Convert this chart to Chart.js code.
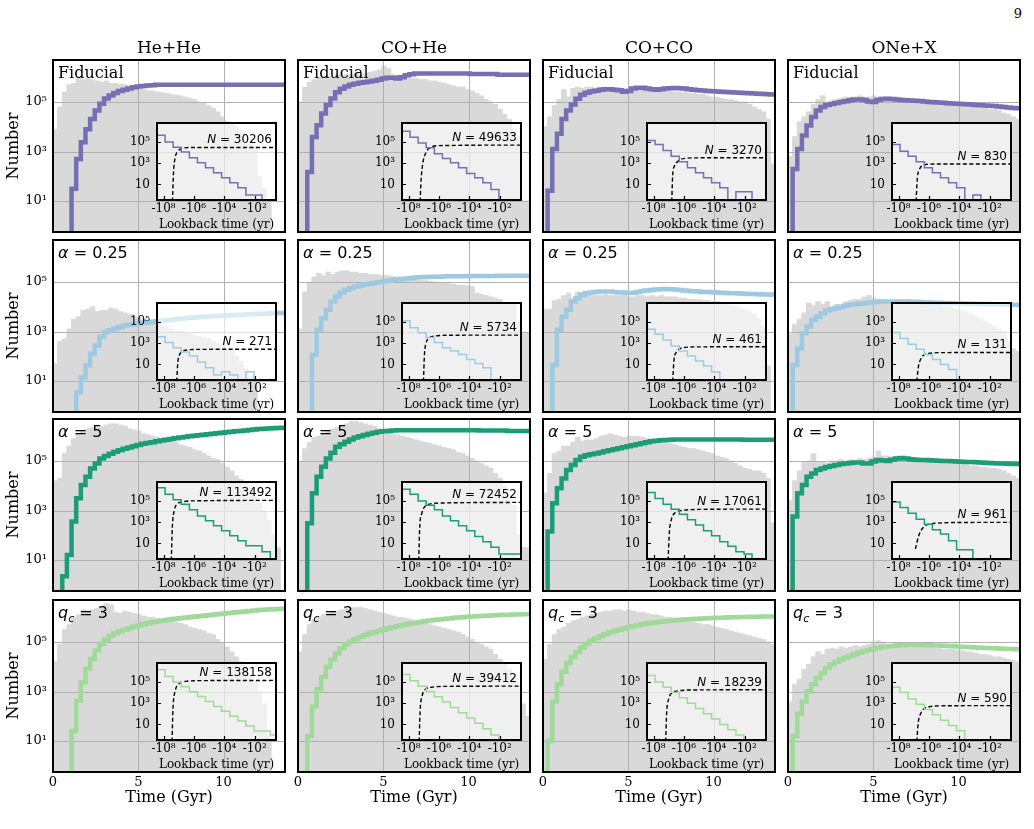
<!DOCTYPE html>
<html>
<head>
<meta charset="utf-8">
<script src="https://cdn.jsdelivr.net/npm/chart.js@4.4.0/dist/chart.umd.min.js"></script>
<style>
  body { margin: 0; background: #fff; width: 1034px; height: 829px; position: relative; overflow: hidden; }
  canvas { position: absolute; }
  .txt { position: absolute; font-family: 'DejaVu Serif', serif; color: #000; white-space: nowrap; line-height: 1; transform: translate(-50%, -50%); }
</style>
</head>
<body>
<script>
// ---- data (counts stored as log10) ----
const channels = ['He+He', 'CO+He', 'CO+CO', 'ONe+X'];
const modelColors = ['#7570b3', '#9ecae1', '#1b9e77', '#a1d99b'];

const timeBinWidth = 0.272;   // Gyr, 50 bins out to 13.6 Gyr
const timeTicks = [0, 5, 10];
const countTicks = [10, 1000, 100000];
const lookbackTicks = [-8, -6, -4, -2];
// bin edges of the inset histograms, in -log10(lookback / yr)
const lookbackEdges = [-8.43, -7.9, -7.37, -6.84, -6.3, -5.77, -5.24, -4.71, -4.18, -3.64, -3.11, -2.58, -2.05, -1.52, -0.98, -0.45];

// grey histograms (all systems), one list per channel
const grayFid = [
  [3.9, 4.8, 5.4, 5.7, 5.75, 6.0, 5.9, 5.95, 5.9, 5.85, 5.8, 5.85, 5.75, 5.75, 5.7, 5.7, 5.6, 5.6, 5.55, 5.5, 5.45, 5.45, 5.4, 5.38, 5.35, 5.3, 5.28, 5.25, 5.2, 5.15, 5.1, 5.0, 4.95, 4.85, 4.75, 4.6, 4.4, 4.2, 4.1, 4.0, 3.8, 3.4, 3.3, 3.2, 2.0, 1.5, 1.0, null, null, null],
  [5.0, 5.6, 5.8, 5.9, 6.0, 6.0, 6.05, 6.0, 6.1, 6.05, 6.1, 6.1, 6.15, 6.1, 6.15, 6.2, 6.25, 6.3, 6.45, 6.35, 6.1, 6.05, 6.0, 6.0, 5.95, 5.95, 5.9, 5.9, 5.85, 5.85, 5.8, 5.75, 5.7, 5.65, 5.6, 5.6, 5.5, 5.45, 5.35, 5.25, 5.1, 5.0, 4.9, 4.7, 4.5, 4.3, 3.8, 3.6, 1.0, 1.0],
  [4.0, 4.4, 4.85, 5.1, 5.5, 5.2, 5.55, 5.6, 5.55, 5.6, 5.6, 5.55, 5.6, 5.55, 5.5, 5.5, 5.5, 5.5, 5.55, 5.6, 5.6, 5.55, 5.5, 5.5, 5.5, 5.45, 5.45, 5.45, 5.4, 5.4, 5.4, 5.35, 5.35, 5.3, 5.3, 5.25, 5.2, 5.2, 5.15, 5.1, 5.1, 5.05, 5.0, 5.0, 4.9, 4.8, 4.7, 4.6, 4.3, 2.5],
  [2.8, 3.6, 4.2, 4.4, 4.6, 4.9, 5.1, 5.25, 4.95, 5.05, 5.1, 5.15, 5.2, 5.2, 5.2, 5.25, 5.2, 5.2, 5.25, 5.2, 5.2, 5.2, 5.15, 5.15, 5.15, 5.1, 5.1, 5.1, 5.05, 5.05, 5.0, 5.0, 5.0, 4.95, 4.95, 4.9, 4.9, 4.85, 4.85, 4.8, 4.8, 4.75, 4.75, 4.7, 4.7, 4.65, 4.55, 4.5, 4.4, 4.3]
];
const grayAlpha025 = [
  [1.7, 2.6, 2.7, 3.1, 3.5, 3.6, 3.85, 3.9, 4.0, 3.8, 3.85, 3.85, 3.95, 3.9, 3.8, 3.75, 3.7, 3.6, 3.55, 3.5, 3.45, 3.35, 3.3, 3.2, 3.15, 3.1, 3.0, 3.0, 2.95, 2.9, 2.85, 2.8, 2.75, 2.7, 2.6, 2.5, 2.4, 2.3, 2.2, 2.0, 1.8, 1.5, 1.2, 1.0, null, null, null, null, null, null],
  [3.1, 4.6, 4.95, 5.2, 5.35, 5.25, 5.4, 5.3, 5.4, 5.45, 5.45, 5.4, 5.4, 5.35, 5.35, 5.3, 5.3, 5.28, 5.27, 5.25, 5.22, 5.2, 5.18, 5.15, 5.1, 5.08, 5.06, 5.05, 5.03, 5.0, 4.98, 4.95, 4.93, 4.9, 4.88, 4.86, 4.84, 4.82, 4.55, 4.5, 4.45, 4.4, 4.35, 4.3, 4.15, 4.15, 4.15, 3.35, 2.93, 2.93],
  [3.9, 3.9, 4.25, 4.3, 4.45, 4.55, 4.35, 4.6, 4.45, 4.5, 4.45, 4.45, 4.45, 4.5, 4.45, 4.45, 4.45, 4.5, 4.4, 4.4, 4.45, 4.45, 4.4, 4.45, 4.4, 4.45, 4.4, 4.4, 4.4, 4.35, 4.35, 4.3, 4.3, 4.3, 4.25, 4.25, 4.2, 4.2, 4.15, 4.1, 4.05, 4.0, 3.95, 3.9, 3.8, 3.7, 3.5, 3.2, 1.6, null],
  [2.9, 3.3, 3.5, 3.75, 4.15, 4.05, 4.2, 4.1, 4.2, 4.0, 4.1, 4.05, 4.2, 4.25, 4.3, 4.3, 4.4, 4.45, 4.35, 4.3, 4.25, 4.25, 4.2, 4.2, 4.2, 4.15, 4.15, 4.15, 4.1, 4.1, 4.1, 4.05, 4.05, 4.0, 4.0, 3.95, 3.9, 3.85, 3.8, 3.7, 3.6, 3.5, 3.4, 3.3, 3.2, 3.1, 3.0, 2.6, 2.3, 2.2]
];
const grayAlpha5 = [
  [4.2, 4.3, 5.3, 5.6, 5.9, 6.1, 6.2, 6.3, 6.35, 6.35, 6.4, 6.45, 6.5, 6.5, 6.45, 6.4, 6.3, 6.25, 6.2, 6.1, 6.05, 6.0, 5.95, 5.9, 5.85, 5.8, 5.75, 5.65, 5.6, 5.55, 5.45, 5.4, 5.3, 5.2, 5.1, 5.05, 4.9, 4.75, 4.6, 4.4, 4.25, 4.1, 3.9, 3.6, 3.3, 3.0, 2.6, 2.0, 1.5, null],
  [5.0, 5.5, 5.75, 5.95, 6.0, 6.1, 6.2, 6.3, 6.35, 6.45, 6.5, 6.6, 6.6, 6.55, 6.5, 6.45, 6.4, 6.3, 6.25, 6.2, 6.1, 6.05, 6.0, 5.95, 5.9, 5.85, 5.8, 5.75, 5.7, 5.65, 5.6, 5.55, 5.5, 5.45, 5.35, 5.3, 5.2, 5.1, 5.0, 4.9, 4.8, 4.7, 4.5, 4.3, 4.0, 3.6, 3.2, 2.0, 1.5, 1.5],
  [3.7, 4.5, 5.3, 5.4, 5.6, 5.6, 5.75, 5.95, 5.8, 5.85, 5.85, 5.9, 6.0, 6.05, 6.1, 6.05, 6.0, 5.95, 6.0, 6.0, 6.0, 5.95, 5.9, 5.85, 5.85, 5.8, 5.75, 5.7, 5.65, 5.6, 5.55, 5.5, 5.5, 5.45, 5.4, 5.35, 5.3, 5.2, 5.15, 5.1, 5.0, 4.9, 4.8, 4.7, 4.65, 4.6, 4.6, 4.5, 4.3, 2.5],
  [3.4, 4.2, 4.6, 4.95, 5.0, 5.3, 4.95, 4.95, 4.9, 5.0, 5.0, 5.05, 5.0, 5.05, 5.0, 5.1, 5.05, 5.1, 5.15, 5.4, 5.2, 5.2, 5.15, 5.15, 5.15, 5.1, 5.1, 5.1, 5.05, 5.05, 5.0, 5.0, 5.0, 4.95, 4.95, 4.9, 4.9, 4.85, 4.85, 4.8, 4.8, 4.75, 4.75, 4.7, 4.7, 4.65, 4.6, 4.5, 4.4, 4.3]
];
const grayQc3 = [
  [4.2, 4.9, 5.5, 5.7, 6.0, 6.1, 6.3, 6.25, 6.3, 6.35, 6.45, 6.55, 6.5, 6.2, 6.15, 6.25, 6.2, 6.15, 6.1, 6.05, 6.0, 6.0, 5.95, 5.9, 5.88, 5.85, 5.8, 5.75, 5.7, 5.6, 5.55, 5.5, 5.45, 5.35, 5.3, 5.1, 4.95, 4.8, 4.6, 4.4, 4.2, 4.0, 3.7, 3.4, 3.0, 2.5, 1.2, null, null, null],
  [4.6, 5.3, 5.7, 5.9, 6.0, 6.1, 6.15, 6.2, 6.25, 6.3, 6.35, 6.35, 6.4, 6.4, 6.35, 6.3, 6.25, 6.2, 6.15, 6.1, 6.05, 6.0, 6.0, 5.95, 5.9, 5.85, 5.8, 5.75, 5.7, 5.65, 5.6, 5.55, 5.5, 5.45, 5.4, 5.3, 5.2, 5.1, 5.0, 4.9, 4.8, 4.7, 4.5, 4.3, 4.1, 3.9, 3.6, 3.2, 2.5, 2.0],
  [4.3, 4.9, 5.3, 5.5, 5.6, 5.75, 5.85, 5.9, 6.0, 6.05, 6.1, 6.15, 6.2, 6.25, 6.25, 6.3, 6.3, 6.25, 6.3, 6.25, 6.2, 6.2, 6.15, 6.1, 6.1, 6.05, 6.0, 6.0, 5.95, 5.9, 5.9, 5.85, 5.8, 5.75, 5.7, 5.7, 5.65, 5.6, 5.55, 5.5, 5.45, 5.4, 5.35, 5.3, 5.25, 5.2, 5.15, 5.1, 5.0, 4.9],
  [2.6, 3.3, 3.5, 3.9, 4.1, 4.4, 4.6, 4.5, 4.7, 4.75, 4.7, 4.8, 4.75, 4.8, 4.85, 4.8, 4.85, 4.9, 4.95, 5.05, 4.95, 4.9, 4.9, 4.9, 4.85, 4.85, 4.85, 4.8, 4.8, 4.8, 4.8, 4.75, 4.75, 4.7, 4.7, 4.7, 4.65, 4.65, 4.6, 4.6, 4.55, 4.5, 4.5, 4.45, 4.4, 4.4, 4.35, 4.3, 4.25, 4.2]
];

// coloured cumulative curves
const lineFid = [
  [null, null, null, null, 1.5, 2.7, 3.38, 3.9, 4.32, 4.66, 4.93, 5.14, 5.27, 5.37, 5.45, 5.5, 5.55, 5.6, 5.63, 5.65, 5.67, 5.68, 5.7, 5.7, 5.7, 5.7, 5.7, 5.7, 5.7, 5.7, 5.7, 5.7, 5.7, 5.7, 5.7, 5.7, 5.7, 5.7, 5.7, 5.7, 5.7, 5.7, 5.7, 5.7, 5.7, 5.7, 5.7, 5.7, 5.7, 5.7],
  [null, null, 2.17, 3.59, 4.06, 4.54, 4.88, 5.14, 5.4, 5.54, 5.63, 5.7, 5.74, 5.78, 5.8, 5.83, 5.86, 5.9, 5.95, 5.98, 5.98, 5.95, 6.0, 6.08, 6.12, 6.15, 6.15, 6.15, 6.15, 6.15, 6.15, 6.15, 6.15, 6.15, 6.15, 6.15, 6.15, 6.13, 6.13, 6.13, 6.13, 6.13, 6.13, 6.1, 6.1, 6.1, 6.1, 6.1, 6.1, 6.1],
  [null, 1.42, 3.1, 3.72, 4.32, 4.66, 4.9, 5.13, 5.3, 5.38, 5.43, 5.46, 5.5, 5.52, 5.52, 5.5, 5.48, 5.42, 5.45, 5.55, 5.58, 5.58, 5.55, 5.52, 5.5, 5.52, 5.55, 5.56, 5.57, 5.56, 5.55, 5.52, 5.5, 5.48, 5.47, 5.45, 5.44, 5.43, 5.42, 5.41, 5.4, 5.39, 5.38, 5.37, 5.36, 5.35, 5.34, 5.33, 5.32, 5.31],
  [null, 2.3, 3.1, 3.65, 4.05, 4.4, 4.66, 4.8, 4.88, 4.92, 4.96, 5.0, 5.03, 5.07, 5.1, 5.1, 5.08, 5.02, 5.0, 5.08, 5.12, 5.13, 5.12, 5.1, 5.08, 5.07, 5.06, 5.05, 5.04, 5.02, 5.0, 4.99, 4.98, 4.97, 4.95, 4.94, 4.93, 4.92, 4.91, 4.9, 4.88, 4.87, 4.86, 4.85, 4.84, 4.82, 4.8, 4.78, 4.76, 4.75]
];
const lineAlpha025 = [
  [null, null, null, null, null, 0.54, 1.14, 1.63, 2.1, 2.44, 2.78, 2.98, 3.05, 3.12, 3.18, 3.25, 3.28, 3.3, 3.33, 3.36, 3.38, 3.4, 3.42, 3.44, 3.46, 3.48, 3.5, 3.52, 3.54, 3.56, 3.57, 3.58, 3.6, 3.61, 3.62, 3.63, 3.64, 3.65, 3.66, 3.67, 3.68, 3.69, 3.7, 3.71, 3.72, 3.72, 3.73, 3.74, 3.75, 3.75],
  [null, null, null, 2.05, 3.07, 3.54, 3.88, 4.22, 4.42, 4.58, 4.69, 4.76, 4.82, 4.86, 4.9, 4.93, 4.96, 4.99, 5.02, 5.05, 5.08, 5.1, 5.12, 5.14, 5.16, 5.18, 5.19, 5.2, 5.21, 5.22, 5.22, 5.23, 5.24, 5.24, 5.24, 5.24, 5.24, 5.25, 5.25, 5.25, 5.25, 5.25, 5.25, 5.26, 5.26, 5.26, 5.26, 5.26, 5.26, 5.26],
  [null, null, 1.65, 3.07, 3.6, 3.88, 4.22, 4.35, 4.49, 4.55, 4.58, 4.6, 4.62, 4.62, 4.62, 4.6, 4.58, 4.58, 4.56, 4.57, 4.6, 4.64, 4.66, 4.68, 4.7, 4.71, 4.72, 4.71, 4.7, 4.68, 4.66, 4.64, 4.63, 4.62, 4.6, 4.6, 4.59, 4.58, 4.57, 4.56, 4.55, 4.55, 4.54, 4.53, 4.52, 4.52, 4.51, 4.5, 4.5, 4.49],
  [null, 1.65, 2.32, 2.93, 3.2, 3.47, 3.6, 3.74, 3.85, 3.9, 3.95, 4.0, 4.04, 4.08, 4.1, 4.12, 4.14, 4.16, 4.18, 4.2, 4.21, 4.22, 4.22, 4.22, 4.22, 4.21, 4.2, 4.2, 4.19, 4.18, 4.17, 4.16, 4.16, 4.15, 4.15, 4.14, 4.14, 4.13, 4.13, 4.12, 4.12, 4.11, 4.11, 4.1, 4.1, 4.1, 4.09, 4.09, 4.08, 4.08]
];
const lineAlpha5 = [
  [null, null, 0.35, 1.2, 2.56, 3.5, 4.03, 4.37, 4.7, 4.9, 5.1, 5.2, 5.3, 5.38, 5.44, 5.5, 5.55, 5.6, 5.65, 5.7, 5.73, 5.76, 5.8, 5.83, 5.86, 5.89, 5.92, 5.95, 5.97, 6.0, 6.02, 6.04, 6.06, 6.08, 6.1, 6.12, 6.14, 6.16, 6.18, 6.2, 6.22, 6.24, 6.26, 6.28, 6.3, 6.31, 6.32, 6.33, 6.34, 6.35],
  [null, null, 2.49, 3.7, 4.37, 4.77, 5.1, 5.34, 5.58, 5.68, 5.78, 5.87, 5.95, 6.0, 6.05, 6.1, 6.14, 6.18, 6.2, 6.22, 6.24, 6.25, 6.25, 6.25, 6.25, 6.25, 6.25, 6.25, 6.25, 6.25, 6.25, 6.25, 6.25, 6.25, 6.25, 6.25, 6.25, 6.25, 6.25, 6.24, 6.24, 6.24, 6.24, 6.24, 6.24, 6.22, 6.22, 6.22, 6.22, 6.22],
  [null, 2.15, 3.3, 3.9, 4.3, 4.64, 4.84, 5.04, 5.17, 5.24, 5.28, 5.31, 5.35, 5.4, 5.44, 5.48, 5.52, 5.56, 5.6, 5.64, 5.68, 5.72, 5.76, 5.8, 5.82, 5.84, 5.85, 5.86, 5.87, 5.87, 5.87, 5.87, 5.87, 5.87, 5.87, 5.87, 5.87, 5.87, 5.87, 5.87, 5.87, 5.87, 5.87, 5.86, 5.86, 5.86, 5.86, 5.86, 5.86, 5.86],
  [null, 2.76, 3.7, 4.03, 4.37, 4.5, 4.64, 4.7, 4.76, 4.8, 4.84, 4.88, 4.9, 4.92, 4.94, 4.94, 4.9, 4.9, 4.98, 5.04, 5.02, 5.0, 5.05, 5.1, 5.12, 5.1, 5.07, 5.05, 5.04, 5.04, 5.03, 5.02, 5.01, 5.0, 5.0, 4.99, 4.98, 4.97, 4.96, 4.96, 4.95, 4.94, 4.93, 4.92, 4.91, 4.9, 4.9, 4.89, 4.88, 4.88]
];
const lineQc3 = [
  [null, null, null, null, 1.41, 2.63, 3.37, 3.92, 4.32, 4.66, 4.93, 5.1, 5.25, 5.36, 5.44, 5.5, 5.56, 5.62, 5.67, 5.72, 5.76, 5.8, 5.83, 5.86, 5.89, 5.92, 5.94, 5.96, 5.98, 6.0, 6.02, 6.04, 6.06, 6.08, 6.1, 6.12, 6.14, 6.16, 6.18, 6.2, 6.22, 6.24, 6.26, 6.28, 6.3, 6.31, 6.32, 6.33, 6.34, 6.35],
  [null, null, 1.2, 2.4, 3.1, 3.6, 4.0, 4.3, 4.55, 4.75, 4.9, 5.02, 5.12, 5.2, 5.28, 5.35, 5.4, 5.45, 5.5, 5.55, 5.6, 5.64, 5.68, 5.72, 5.75, 5.78, 5.81, 5.84, 5.87, 5.89, 5.91, 5.93, 5.95, 5.97, 5.99, 6.0, 6.02, 6.03, 6.04, 6.05, 6.06, 6.07, 6.08, 6.09, 6.1, 6.1, 6.11, 6.11, 6.12, 6.12],
  [null, 1.0, 2.6, 3.3, 3.8, 4.15, 4.4, 4.6, 4.78, 4.92, 5.05, 5.15, 5.24, 5.32, 5.39, 5.45, 5.5, 5.55, 5.6, 5.64, 5.68, 5.72, 5.75, 5.78, 5.8, 5.82, 5.84, 5.86, 5.88, 5.9, 5.91, 5.92, 5.93, 5.94, 5.95, 5.96, 5.97, 5.98, 5.98, 5.99, 6.0, 6.0, 6.01, 6.01, 6.02, 6.02, 6.02, 6.03, 6.03, 6.03],
  [null, 1.2, 2.1, 2.6, 3.0, 3.3, 3.55, 3.75, 3.95, 4.1, 4.2, 4.3, 4.38, 4.45, 4.52, 4.58, 4.63, 4.68, 4.72, 4.76, 4.8, 4.82, 4.84, 4.86, 4.87, 4.88, 4.88, 4.88, 4.88, 4.87, 4.87, 4.86, 4.86, 4.85, 4.84, 4.83, 4.82, 4.81, 4.8, 4.79, 4.78, 4.77, 4.76, 4.75, 4.75, 4.74, 4.73, 4.72, 4.72, 4.71]
];

// inset histograms per lookback bin
const insetFid = [
  [5.63, 5.0, 4.5, 4.06, 3.5, 3.03, 2.56, 2.1, 1.63, 1.16, 0.69, 0.0, 0.0],
  [6.0, 5.44, 4.9, 4.44, 3.88, 3.44, 3.03, 2.56, 2.03, 1.63, 1.16, 0.53],
  [5.13, 4.75, 4.19, 3.66, 3.13, 2.56, 2.1, 1.63, 1.16, 0.69, null, 0.3, 0.3],
  [4.75, 4.13, 3.66, 3.13, 2.56, 2.1, 1.63, 1.16, 0.69, null, 0.0]
];
const insetAlpha025 = [
  [3.61, 3.05, 2.57, 2.17, 1.79, 1.22, 0.69, 0.0, 0.3, 0.0, null, 0.3],
  [5.1, 4.46, 3.99, 3.52, 3.05, 2.57, 2.26, 1.94, 1.47, 1.09, 0.69],
  [4.3, 3.83, 3.3, 2.73, 2.26, 1.79, 1.31, 0.84, 0.28],
  [4.0, 3.43, 2.89, 2.42, 1.94, 1.47, 1.0, 0.53]
];
const insetAlpha5 = [
  [6.25, 5.63, 5.1, 4.69, 4.16, 3.59, 3.13, 2.66, 2.19, 1.72, 1.25, 0.78, 0.78, 0.22],
  [6.1, 5.63, 5.0, 4.6, 4.16, 3.59, 3.13, 2.66, 2.19, 1.66, 1.16, 0.63, 0.0, 0.0, 0.0],
  [5.78, 5.22, 4.69, 4.22, 3.75, 3.22, 2.72, 2.19, 1.72, 1.16, 0.72, 0.22, 0.0],
  [4.9, 4.38, 3.84, 3.28, 2.81, 2.28, 1.88, 1.25, 0.41, 0.41]
];
const insetQc3 = [
  [6.14, 5.52, 5.0, 4.54, 4.08, 3.62, 3.15, 2.69, 2.23, 1.77, 1.31, 0.85, 0.38, 0.38, 0.0],
  [5.7, 5.1, 4.6, 4.1, 3.6, 3.1, 2.6, 2.1, 1.6, 1.1, 0.6, 0.0],
  [5.6, 5.0, 4.5, 4.0, 3.5, 3.0, 2.5, 2.0, 1.5, 1.0, 0.5, 0.0],
  [4.5, 4.0, 3.4, 2.9, 2.4, 1.9, 1.4, 0.9, 0.4]
];

// dashed cumulative curves in the insets: [ -log10(lookback), log10(N) ]
const dashFid = [
  [[-7.41, -0.6], [-7.35, 1.94], [-7.24, 3.5], [-7.08, 4.06], [-6.8, 4.38], [-6.26, 4.47], [-0.6, 4.48]],
  [[-7.24, -0.6], [-7.17, 1.5], [-7.06, 3.0], [-6.85, 4.0], [-6.54, 4.5], [-5.93, 4.65], [-0.6, 4.7]],
  [[-6.8, -0.6], [-6.74, 1.9], [-6.63, 2.7], [-6.37, 3.2], [-5.93, 3.45], [-5.17, 3.5], [-0.6, 3.51]],
  [[-6.85, -0.6], [-6.76, 1.6], [-6.63, 2.4], [-6.4, 2.8], [-6.0, 2.9], [-5.0, 2.92], [-0.6, 2.92]]
];
const dashAlpha025 = [
  [[-7.13, -0.6], [-7.06, 1.2], [-6.95, 1.9], [-6.8, 2.2], [-6.47, 2.35], [-5.8, 2.41], [-0.6, 2.43]],
  [[-7.02, -0.6], [-6.95, 2.0], [-6.85, 3.0], [-6.63, 3.5], [-6.26, 3.67], [-5.5, 3.74], [-0.6, 3.76]],
  [[-6.74, -0.6], [-6.65, 1.5], [-6.52, 2.1], [-6.3, 2.45], [-5.93, 2.6], [-5.0, 2.65], [-0.6, 2.66]],
  [[-6.8, -0.6], [-6.69, 0.8], [-6.54, 1.5], [-6.26, 1.95], [-5.93, 2.05], [-5.0, 2.11], [-0.6, 2.12]]
];
const dashAlpha5 = [
  [[-7.49, -0.6], [-7.42, 2.56], [-7.29, 4.13], [-7.11, 4.69], [-6.78, 4.9], [-6.22, 5.0], [-0.6, 5.05]],
  [[-7.33, -0.6], [-7.27, 2.35], [-7.11, 3.9], [-6.89, 4.53], [-6.56, 4.72], [-5.89, 4.8], [-0.6, 4.86]],
  [[-7.04, -0.6], [-6.96, 2.03], [-6.82, 3.28], [-6.56, 3.9], [-6.11, 4.1], [-5.0, 4.2], [-0.6, 4.23]],
  [[-6.89, 0.47], [-6.67, 1.72], [-6.38, 2.5], [-6.0, 2.81], [-5.44, 2.9], [-4.5, 2.96], [-0.6, 2.98]]
];
const dashQc3 = [
  [[-7.44, -0.6], [-7.38, 2.4], [-7.22, 4.2], [-7.0, 4.8], [-6.56, 5.05], [-5.5, 5.12], [-0.6, 5.14]],
  [[-7.3, -0.6], [-7.24, 2.2], [-7.1, 3.7], [-6.9, 4.3], [-6.5, 4.5], [-5.5, 4.58], [-0.6, 4.6]],
  [[-7.2, -0.6], [-7.14, 2.0], [-7.0, 3.4], [-6.8, 3.95], [-6.4, 4.15], [-5.4, 4.24], [-0.6, 4.26]],
  [[-6.8, -0.6], [-6.7, 1.2], [-6.55, 2.0], [-6.3, 2.5], [-5.9, 2.68], [-5.0, 2.75], [-0.6, 2.77]]
];

const nFid = [30206, 49633, 3270, 830];
const nAlpha025 = [271, 5734, 461, 131];
const nAlpha5 = [113492, 72452, 17061, 961];
const nQc3 = [138158, 39412, 18239, 590];

// ---- layout ----
const grayAll = [grayFid, grayAlpha025, grayAlpha5, grayQc3];
const lineAll = [lineFid, lineAlpha025, lineAlpha5, lineQc3];
const insetAll = [insetFid, insetAlpha025, insetAlpha5, insetQc3];
const dashAll = [dashFid, dashAlpha025, dashAlpha5, dashQc3];
const nAll = [nFid, nAlpha025, nAlpha5, nQc3];

const SERIF = "'DejaVu Serif', serif";
const SANS = "'DejaVu Sans', sans-serif";
const GRAY = '#d9d9d9';
const GRID = '#b0b0b0';
const FLOOR = 1e-3;
const TOPPAD = 18;   // room so tick-label padding never pushes the plot area down

const colX = [53, 298, 543, 788];
const rowY = [60, 240, 419, 600];
const PW = 232, PH = 172;
const nBins = 50;
const sup = { 10: '10\u00b9', 1000: '10\u00b3', 100000: '10\u2075' };
const insetSup = { 10: '10', 1000: '10\u00b3', 100000: '10\u2075' };
const lbSup = { '-8': '-10\u2078', '-6': '-10\u2076', '-4': '-10\u2074', '-2': '-10\u00b2' };

Chart.defaults.font.family = SERIF;
Chart.defaults.color = '#000';

function toY(v) { return v == null ? FLOOR : Math.pow(10, v); }

// draw text pieces (italic / subscript) one after the other
function drawRich(ctx, segs, x, y, size, align) {
  const fontOf = s => (s.it ? 'oblique ' : '') + (s.sub ? Math.round(size * 0.7) : size) + 'px ' + SANS;
  let w = 0;
  segs.forEach(s => { ctx.font = fontOf(s); w += ctx.measureText(s.t).width; });
  let cx = align === 'right' ? x - w : x;
  ctx.textAlign = 'left';
  ctx.textBaseline = 'alphabetic';
  segs.forEach(s => {
    ctx.font = fontOf(s);
    ctx.fillText(s.t, cx, s.sub ? y + size * 0.22 : y);
    cx += ctx.measureText(s.t).width;
  });
}

function panelLabel(ctx, r, x, y) {
  ctx.fillStyle = '#000';
  if (r === 0) {
    ctx.font = '16px ' + SERIF; ctx.textAlign = 'left'; ctx.textBaseline = 'alphabetic';
    ctx.fillText('Fiducial', x, y);
  } else if (r === 1) {
    drawRich(ctx, [{ t: '\u03b1', it: true }, { t: ' = 0.25' }], x, y, 16, 'left');
  } else if (r === 2) {
    drawRich(ctx, [{ t: '\u03b1', it: true }, { t: ' = 5' }], x, y, 16, 'left');
  } else {
    drawRich(ctx, [{ t: 'q', it: true }, { t: 'c', it: true, sub: true }, { t: ' = 3' }], x, y, 16, 'left');
  }
}

function makeCanvas(left, top, w, h) {
  const cv = document.createElement('canvas');
  cv.width = w; cv.height = h;
  cv.style.left = left + 'px'; cv.style.top = top + 'px';
  cv.style.width = w + 'px'; cv.style.height = h + 'px';
  document.body.appendChild(cv);
  return cv;
}

function mainPanel(r, c) {
  const cv = makeCanvas(colX[c] - 50, rowY[r] - TOPPAD, 50 + PW + 4, TOPPAD + PH + 30);
  const gray = grayAll[r][c], line = lineAll[r][c];
  const grayPts = [], linePts = [];
  for (let i = 0; i < nBins; i++) {
    grayPts.push({ x: i * timeBinWidth, y: toY(gray[i]) });
    linePts.push({ x: i * timeBinWidth, y: toY(line[i]) });
  }
  grayPts.push({ x: nBins * timeBinWidth, y: toY(gray[nBins - 1]) });
  linePts.push({ x: nBins * timeBinWidth, y: toY(line[nBins - 1]) });

  new Chart(cv, {
    type: 'line',
    data: {
      datasets: [
        { data: linePts, borderColor: modelColors[r], borderWidth: 4.5, stepped: 'before', pointRadius: 0,
          fill: false, clip: 0, borderJoinStyle: 'miter', borderCapStyle: 'butt' },
        { data: grayPts, borderColor: GRAY, borderWidth: 1, backgroundColor: GRAY, fill: 'start',
          stepped: 'before', pointRadius: 0, clip: 0 }
      ]
    },
    options: {
      responsive: false, animation: false, devicePixelRatio: 1,
      layout: { padding: { top: TOPPAD, right: 4, left: 0, bottom: 0 } },
      plugins: { legend: { display: false }, tooltip: { enabled: false } },
      scales: {
        x: {
          type: 'linear', min: 0, max: nBins * timeBinWidth, bounds: 'data',
          grid: { display: false, drawTicks: false }, border: { display: false },
          ticks: { display: r === 3, font: { size: 13 }, padding: 3, maxRotation: 0, autoSkip: false },
          afterBuildTicks: s => { s.ticks = timeTicks.map(v => ({ value: v })); },
          afterFit: s => { s.height = 30; }
        },
        y: {
          type: 'logarithmic', min: Math.pow(10, -0.25), max: Math.pow(10, 6.7), bounds: 'data',
          grid: { display: false, drawTicks: false }, border: { display: false },
          ticks: { display: c === 0, font: { size: 13 }, padding: 6, autoSkip: false, callback: v => sup[v] },
          afterBuildTicks: s => { s.ticks = countTicks.map(v => ({ value: v })); },
          afterFit: s => { s.width = 50; }
        }
      }
    },
    plugins: [{
      id: 'panelDeco',
      afterDatasetDraw(chart, args) {
        if (args.index !== 1) return;
        const { ctx, chartArea: a, scales } = chart;
        ctx.save();
        ctx.strokeStyle = GRID; ctx.lineWidth = 1;
        ctx.beginPath();
        countTicks.forEach(v => {
          const y = Math.round(scales.y.getPixelForValue(v)) + 0.5;
          ctx.moveTo(a.left, y); ctx.lineTo(a.right, y);
        });
        timeTicks.slice(1).forEach(v => {
          const x = Math.round(scales.x.getPixelForValue(v)) + 0.5;
          ctx.moveTo(x, a.top); ctx.lineTo(x, a.bottom);
        });
        ctx.stroke();
        ctx.restore();
      },
      afterDraw(chart) {
        const { ctx, chartArea: a } = chart;
        ctx.save();
        ctx.strokeStyle = '#000'; ctx.lineWidth = 2;
        ctx.strokeRect(a.left, a.top, a.right - a.left, a.bottom - a.top);
        panelLabel(ctx, r, a.left + 5, a.top + 18);
        ctx.restore();
      }
    }]
  });
}

function insetPanel(r, c) {
  const cv = makeCanvas(colX[c] + 104 - 32, rowY[r] + 63 - TOPPAD, 32 + 119 + 3, TOPPAD + 77 + 31);
  const vals = insetAll[r][c];
  const stepPts = vals.map((v, k) => ({ x: lookbackEdges[k], y: toY(v) }));
  stepPts.push({ x: lookbackEdges[vals.length], y: FLOOR });
  const dashPts = dashAll[r][c].map(p => ({ x: p[0], y: Math.pow(10, p[1]) }));
  const n = nAll[r][c];
  const plateau = dashAll[r][c][dashAll[r][c].length - 1][1];

  new Chart(cv, {
    type: 'line',
    data: {
      datasets: [
        { data: stepPts, borderColor: modelColors[r], borderWidth: 1.5, stepped: 'before', pointRadius: 0,
          fill: false, clip: 0, borderJoinStyle: 'miter' },
        { data: dashPts, borderColor: '#000', borderWidth: 1.4, borderDash: [4, 2.5], pointRadius: 0,
          fill: false, clip: 0, cubicInterpolationMode: 'monotone' }
      ]
    },
    options: {
      responsive: false, animation: false, devicePixelRatio: 1,
      layout: { padding: { top: TOPPAD, right: 3, left: 0, bottom: 0 } },
      plugins: { legend: { display: false }, tooltip: { enabled: false } },
      scales: {
        x: {
          type: 'linear', min: -8.43, max: -0.6, bounds: 'data',
          grid: { display: false, drawTicks: false }, border: { display: false },
          ticks: { font: { size: 12 }, padding: 2, maxRotation: 0, autoSkip: false, callback: v => lbSup[v] },
          afterBuildTicks: s => { s.ticks = lookbackTicks.map(v => ({ value: v })); },
          afterFit: s => { s.height = 31; }
        },
        y: {
          type: 'logarithmic', min: Math.pow(10, -0.47), max: Math.pow(10, 6.78), bounds: 'data',
          grid: { display: false, drawTicks: false }, border: { display: false },
          ticks: { font: { size: 12 }, padding: 7, autoSkip: false, callback: v => insetSup[v] },
          afterBuildTicks: s => { s.ticks = countTicks.map(v => ({ value: v })); },
          afterFit: s => { s.width = 32; }
        }
      }
    },
    plugins: [{
      id: 'insetDeco',
      beforeDraw(chart) {
        const { ctx, chartArea: a } = chart;
        ctx.save();
        ctx.fillStyle = 'rgba(255,255,255,0.6)';
        ctx.fillRect(a.left, a.top, a.right - a.left, a.bottom - a.top);
        ctx.restore();
      },
      afterDraw(chart) {
        const { ctx, chartArea: a, scales } = chart;
        ctx.save();
        ctx.strokeStyle = '#000'; ctx.lineWidth = 1.2;
        ctx.beginPath();
        countTicks.forEach(v => {
          const y = Math.round(scales.y.getPixelForValue(v)) + 0.5;
          ctx.moveTo(a.left, y); ctx.lineTo(a.left + 4, y);
        });
        lookbackTicks.forEach(v => {
          const x = Math.round(scales.x.getPixelForValue(v)) + 0.5;
          ctx.moveTo(x, a.bottom); ctx.lineTo(x, a.bottom - 4);
        });
        ctx.stroke();
        ctx.lineWidth = 2;
        ctx.strokeRect(a.left, a.top, a.right - a.left, a.bottom - a.top);
        ctx.fillStyle = '#000';
        const py = scales.y.getPixelForValue(Math.pow(10, plateau)) - 4;
        drawRich(ctx, [{ t: 'N', it: true }, { t: ' = ' + n }], a.right - 4, py, 12, 'right');
        ctx.font = '12px ' + SERIF; ctx.textAlign = 'center'; ctx.textBaseline = 'alphabetic';
        ctx.fillText('Lookback time (yr)', (a.left + a.right) / 2, a.bottom + 28);
        ctx.restore();
      }
    }]
  });
}

for (let r = 0; r < 4; r++) for (let c = 0; c < 4; c++) mainPanel(r, c);
for (let r = 0; r < 4; r++) for (let c = 0; c < 4; c++) insetPanel(r, c);

// ---- page text ----
function addText(t, x, y, size, rot) {
  const d = document.createElement('div');
  d.className = 'txt';
  d.textContent = t;
  d.style.left = x + 'px'; d.style.top = y + 'px'; d.style.fontSize = size + 'px';
  if (rot) d.style.transform = 'translate(-50%, -50%) rotate(-90deg)';
  document.body.appendChild(d);
}
channels.forEach((t, c) => addText(t, colX[c] + PW / 2, 47, 17));
channels.forEach((t, c) => addText('Time (Gyr)', colX[c] + PW / 2, 797, 16));
rowY.forEach(y => addText('Number', 13, y + PH / 2, 16, true));
addText('9', 1018, 13, 13);
</script>
</body>
</html>
